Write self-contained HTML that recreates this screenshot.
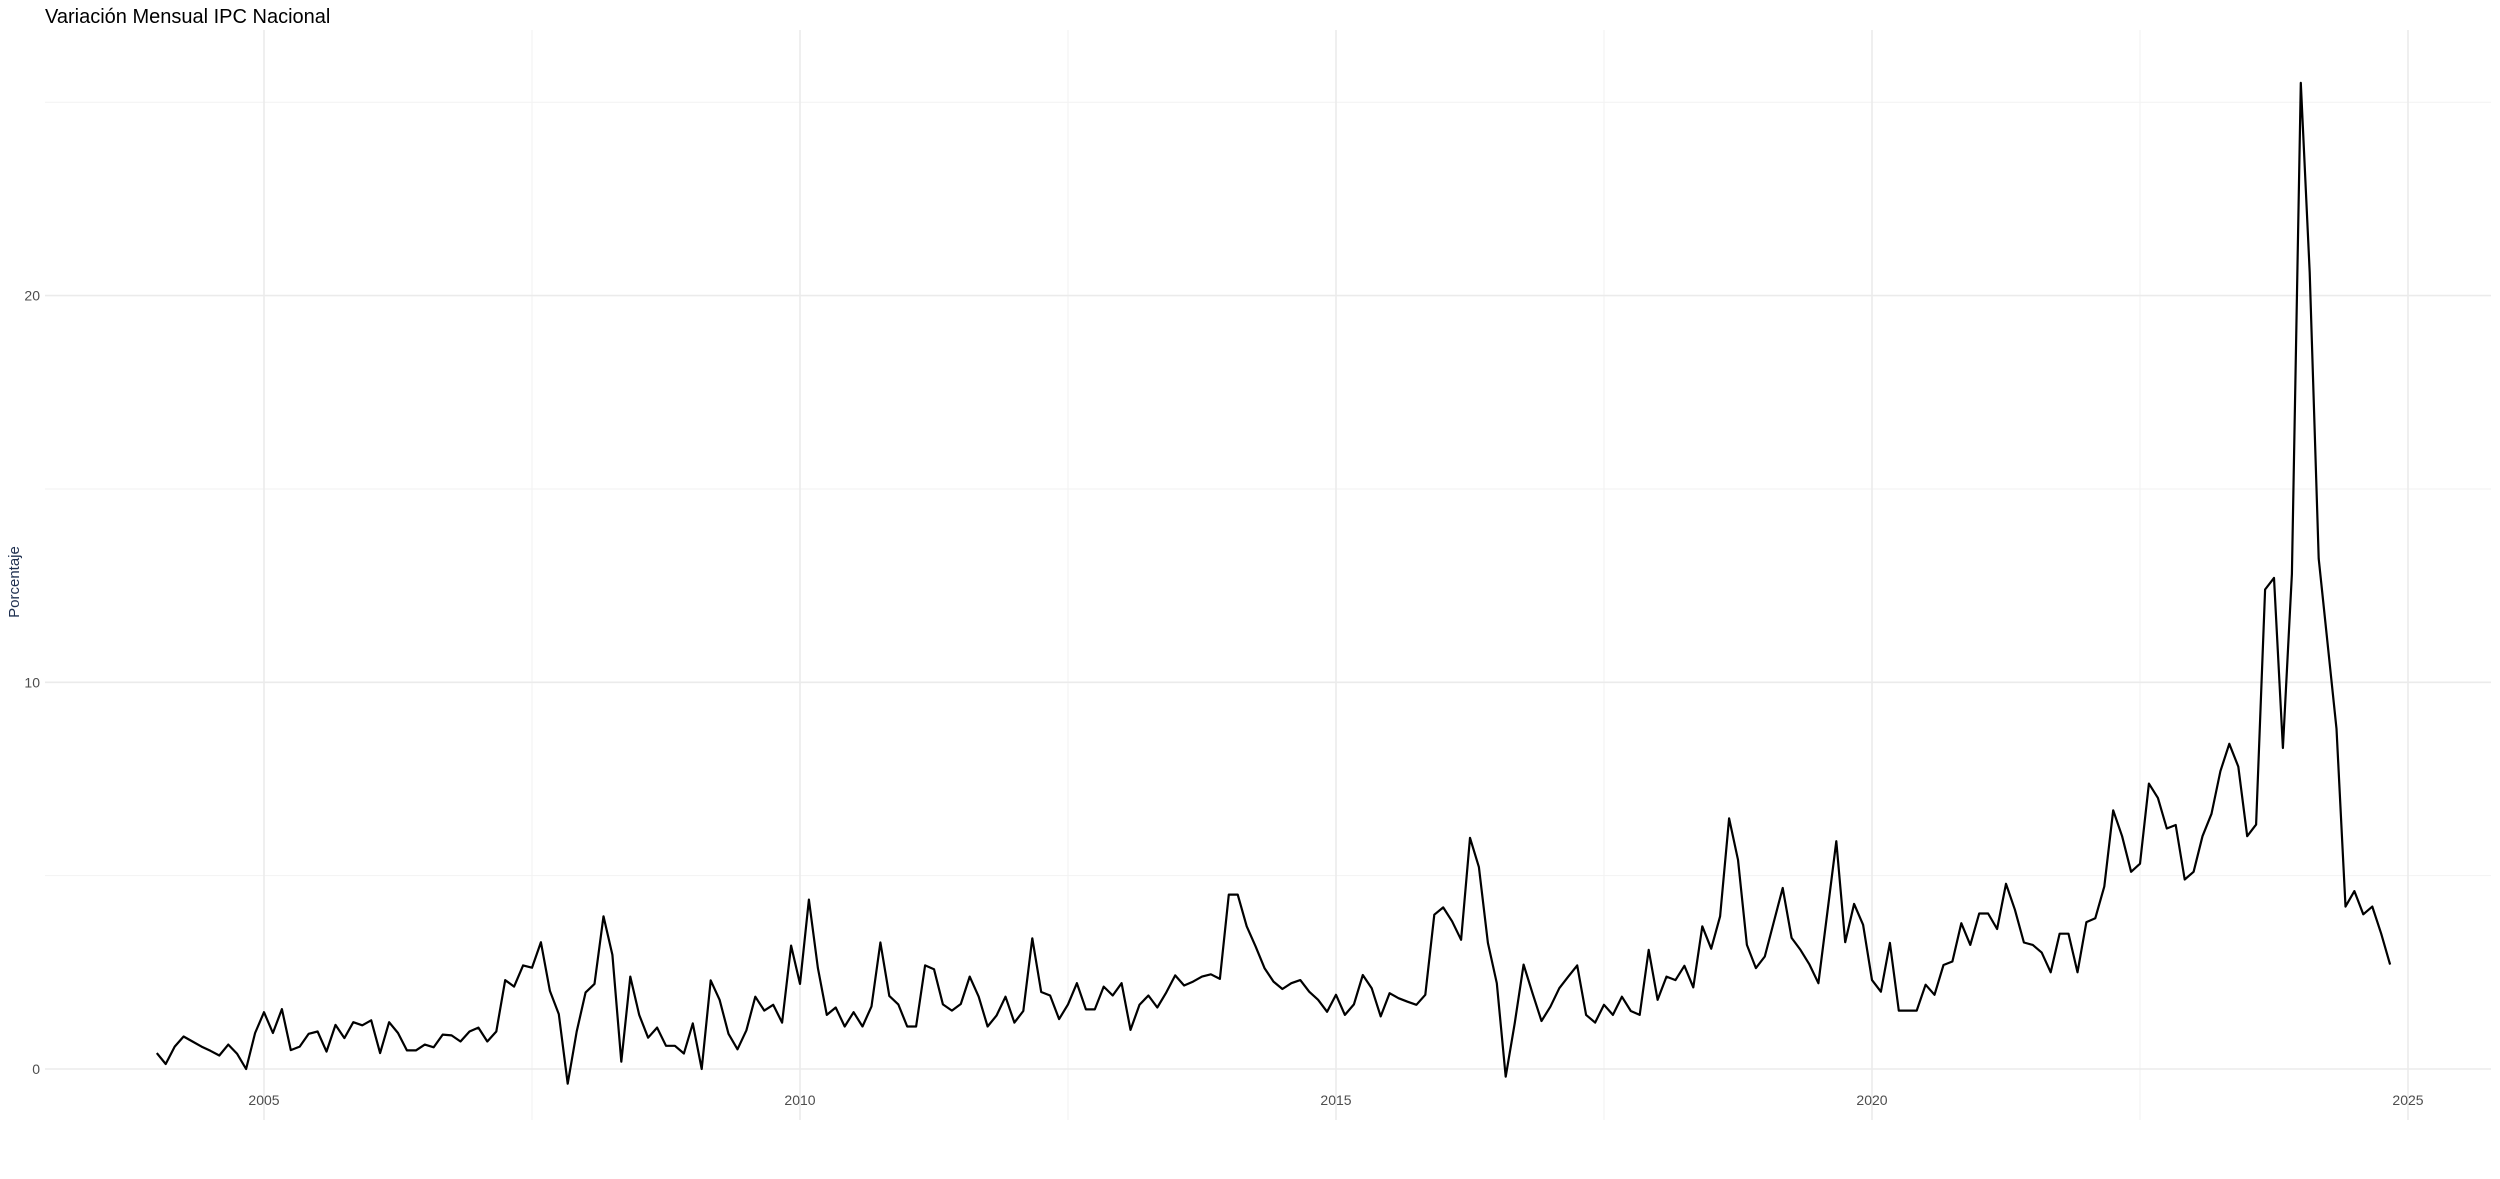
<!DOCTYPE html>
<html><head><meta charset="utf-8">
<style>
html,body{margin:0;padding:0;background:#fff;}
svg{display:block;}
text{font-family:"Liberation Sans",sans-serif;}
</style></head>
<body>
<svg id="chart" width="2500" height="1179" viewBox="0 0 2500 1179" xmlns="http://www.w3.org/2000/svg">
<rect width="2500" height="1179" fill="#fff"/>
<text x="45" y="23" font-size="20" fill="#000">Variación Mensual IPC Nacional</text>
<text transform="translate(19,582) rotate(-90)" text-anchor="middle" font-size="15" fill="#1f3050">Porcentaje</text>
<g id="grid"></g><g id="axes"></g><g id="series"></g>
</svg>
<script>
const startYear = 2004;
const values = [
0.41,0.13,0.58,0.84,0.71,0.58,0.47,0.35,0.63,0.39,0.0,0.93,
1.47,0.93,1.55,0.49,0.58,0.91,0.97,0.45,1.14,0.80,1.21,1.13,
1.26,0.41,1.21,0.93,0.48,0.48,0.63,0.56,0.89,0.87,0.71,0.97,
1.07,0.71,0.97,2.30,2.13,2.68,2.62,3.28,2.02,1.42,-0.38,0.97,
1.98,2.20,3.95,2.95,0.19,2.39,1.40,0.81,1.07,0.60,0.60,0.40,
1.18,0.0,2.29,1.79,0.91,0.51,1.0,1.87,1.51,1.66,1.20,3.19,
2.20,4.38,2.61,1.40,1.59,1.10,1.47,1.10,1.62,3.27,1.89,1.67,
1.10,1.10,2.68,2.58,1.67,1.51,1.68,2.39,1.87,1.10,1.38,1.87,
1.20,1.50,3.38,1.99,1.90,1.29,1.67,2.22,1.54,1.54,2.13,1.90,
2.22,1.01,1.66,1.90,1.59,1.98,2.42,2.16,2.26,2.39,2.45,2.33,
4.51,4.51,3.69,3.17,2.61,2.26,2.07,2.22,2.30,2.00,1.79,1.48,
1.92,1.40,1.67,2.43,2.09,1.36,1.96,1.83,1.74,1.66,1.92,3.99,
4.18,3.82,3.34,5.98,5.22,3.26,2.22,-0.20,1.18,2.70,1.96,1.24,
1.61,2.09,2.39,2.68,1.40,1.20,1.66,1.40,1.87,1.50,1.40,3.08,
1.79,2.39,2.30,2.67,2.11,3.69,3.11,3.95,6.48,5.41,3.21,2.61,
2.91,3.79,4.68,3.39,3.08,2.70,2.22,4.04,5.89,3.28,4.27,3.73,
2.30,2.00,3.26,1.51,1.51,1.51,2.18,1.92,2.69,2.78,3.77,3.21,
4.02,4.02,3.62,4.79,4.12,3.27,3.21,3.01,2.50,3.50,3.50,2.50,
3.80,3.90,4.72,6.69,6.02,5.10,5.31,7.38,7.01,6.22,6.31,4.90,
5.10,6.02,6.60,7.70,8.41,7.82,6.02,6.32,12.4,12.7,8.3,12.8,
25.5,20.6,13.2,11.0,8.8,4.2,4.6,4.0,4.2,3.5,2.7
];
const yTicks = [0,10,20];
const yMinor = [5,15,25];
const xTicks = [2005,2010,2015,2020,2025];
const xMinor = [2007.5,2012.5,2017.5,2022.5];

const NS="http://www.w3.org/2000/svg";
const PL=45, PR=2491, PT=30, PB=1120;
function xs(t){return 264 + (t-2005)*107.2;}
function ys(v){return 1069 - v*38.67;}
function mk(tag,attrs,parent){const e=document.createElementNS(NS,tag);for(const k in attrs)e.setAttribute(k,attrs[k]);parent.appendChild(e);return e;}
const grid=document.getElementById('grid'), axes=document.getElementById('axes'), ser=document.getElementById('series');
yMinor.forEach(v=>{const l=mk('line',{x1:PL,x2:PR,y1:ys(v),y2:ys(v),stroke:'#f2f2f2','stroke-width':1},grid);

});
xMinor.forEach(t=>{const l=mk('line',{x1:xs(t),x2:xs(t),y1:PT,y2:PB,stroke:'#f2f2f2','stroke-width':1},grid);

});
yTicks.forEach(v=>{const l=mk('line',{x1:PL,x2:PR,y1:ys(v),y2:ys(v),stroke:'#ebebeb','stroke-width':1.6},grid);


const t=mk('text',{x:40,y:ys(v)+5,'text-anchor':'end','font-size':14,fill:'#4d4d4d'},axes);t.textContent=v;

});
xTicks.forEach(v=>{const l=mk('line',{x1:xs(v),x2:xs(v),y1:PT,y2:PB,stroke:'#ebebeb','stroke-width':1.6},grid);


const t=mk('text',{x:xs(v),y:1105,'text-anchor':'middle','font-size':14,fill:'#4d4d4d'},axes);t.textContent=v;

});
const pts=values.map((v,i)=>xs(startYear+i/12).toFixed(1)+','+ys(v).toFixed(1)).join(' ');
const line=mk('polyline',{points:pts,fill:'none',stroke:'#000','stroke-width':2.2,'stroke-linejoin':'round'},ser);


</script>
</body></html>
